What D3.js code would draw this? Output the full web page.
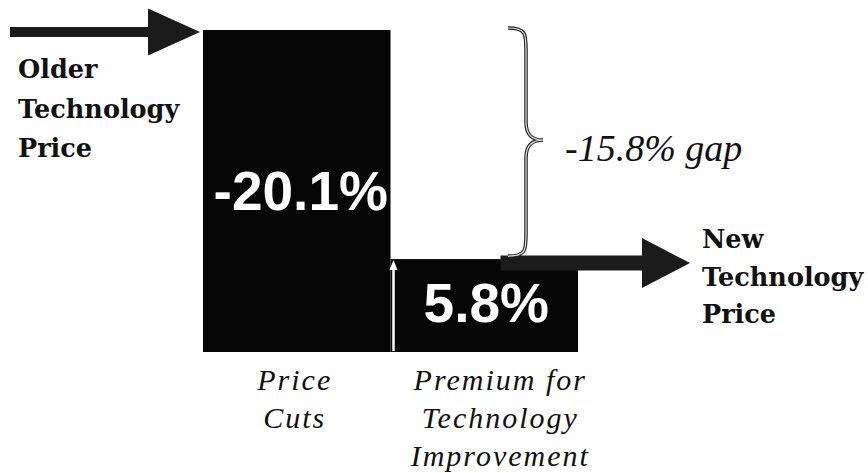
<!DOCTYPE html>
<html>
<head>
<meta charset="utf-8">
<script src="https://d3js.org/d3.v7.min.js"></script>
<style>
  html, body { margin: 0; padding: 0; background: #fff; }
  svg { display: block; }
  .bar { fill: #060606; }
  .arrow { fill: #1b1b1b; }
  .side-label { font-family: "DejaVu Serif", serif; font-weight: bold; font-size: 25.5px; fill: #111; }
  .bar-label { font-family: "Liberation Sans", Arial, sans-serif; font-weight: bold; font-size: 55px; fill: #fff; }
  .cat-label { font-family: "Liberation Serif", "Times New Roman", serif; font-style: italic; font-size: 30px; letter-spacing: 2px; fill: #111; }
  .gap-label { font-family: "Liberation Serif", "Times New Roman", serif; font-style: italic; font-size: 38px; fill: #111; }
</style>
</head>
<body>
<div id="chart"></div>
<script>
// data
var categories = ["Price Cuts", "Premium for Technology Improvement"];
var changes = [-20.1, 5.8];
var barLabels = ["-20.1%", "5.8%"];
var categoryLines = [["Price", "Cuts"], ["Premium for", "Technology", "Improvement"]];
var startLines = ["Older", "Technology", "Price"];
var endLines = ["New", "Technology", "Price"];
var gapLabel = "-15.8% gap";

var width = 868, height = 473;

// levels relative to the bottom of the price cut
var startLevel = -changes[0];
var cutLevel = startLevel + changes[0];
var endLevel = cutLevel + changes[1];

var svg = d3.select("#chart").append("svg")
    .attr("width", width)
    .attr("height", height);

var x = d3.scaleBand()
    .domain(categories)
    .range([203, 578])
    .padding(0);

var y = d3.scaleLinear()
    .domain([0, startLevel])
    .range([352, 30]);

var bars = [
    {cat: categories[0], from: startLevel, to: cutLevel, label: barLabels[0]},
    {cat: categories[1], from: cutLevel, to: endLevel, label: barLabels[1]}
];

svg.selectAll(".bar")
    .data(bars)
    .enter().append("rect")
    .attr("class", "bar")
    .attr("x", function(d) { return x(d.cat); })
    .attr("width", x.bandwidth())
    .attr("y", function(d) { return y(Math.max(d.from, d.to)); })
    .attr("height", function(d) { return y(Math.min(d.from, d.to)) - y(Math.max(d.from, d.to)); });

// arrow shape, tip at (x1, yc)
function arrowPath(x0, x1, yc, shaft, head, headLen) {
    var hx = x1 - headLen;
    return "M" + x0 + "," + (yc - shaft) +
        "L" + hx + "," + (yc - shaft) +
        "L" + hx + "," + (yc - head) +
        "L" + x1 + "," + yc +
        "L" + hx + "," + (yc + head) +
        "L" + hx + "," + (yc + shaft) +
        "L" + x0 + "," + (yc + shaft) + "Z";
}

// older price arrow
svg.append("path")
    .attr("class", "arrow")
    .attr("d", arrowPath(10, x(categories[0]) - 3, y(startLevel) + 2, 5, 23.5, 52));

// new price arrow
svg.append("path")
    .attr("class", "arrow")
    .attr("d", arrowPath(x(categories[1]) + 110, x(categories[1]) + x.bandwidth() + 112, y(endLevel) + 4, 7.5, 25, 48));

// white rise arrow between the bars
var ax = x(categories[1]) + 3;
svg.append("line")
    .attr("x1", ax).attr("x2", ax)
    .attr("y1", y(cutLevel) - 1)
    .attr("y2", y(endLevel) + 8)
    .attr("stroke", "#fff")
    .attr("stroke-width", 2.5);
svg.append("path")
    .attr("d", "M" + (ax - 4) + "," + (y(endLevel) + 11) + "L" + ax + "," + (y(endLevel) + 1) + "L" + (ax + 4) + "," + (y(endLevel) + 11) + "Z")
    .attr("fill", "#fff");

// bar value labels
svg.selectAll(".bar-label")
    .data(bars)
    .enter().append("text")
    .attr("class", "bar-label")
    .attr("text-anchor", "middle")
    .attr("x", function(d, i) { return x(d.cat) + x.bandwidth() / 2 + (i === 0 ? 4 : 2); })
    .attr("y", function(d, i) { return i === 0 ? y(startLevel) + 180 : y(cutLevel) - 30; })
    .text(function(d) { return d.label; });

// category labels under bars
var catG = svg.selectAll(".cat")
    .data(categories)
    .enter().append("text")
    .attr("class", "cat-label")
    .attr("text-anchor", "middle")
    .attr("transform", function(d, i) {
        return "translate(" + (x(d) + x.bandwidth() / 2 + (i === 0 ? -2 : 16)) + "," + (y(0) + 38) + ")";
    });
catG.selectAll("tspan")
    .data(function(d, i) { return categoryLines[i]; })
    .enter().append("tspan")
    .attr("x", 0)
    .attr("y", function(d, i) { return i * 38; })
    .text(function(d) { return d; });

// side labels
svg.append("text")
    .attr("class", "side-label")
    .attr("transform", "translate(18," + (y(startLevel) + 48) + ")")
    .selectAll("tspan")
    .data(startLines)
    .enter().append("tspan")
    .attr("x", 0)
    .attr("y", function(d, i) { return i * 39.5; })
    .text(function(d) { return d; });

svg.append("text")
    .attr("class", "side-label")
    .attr("transform", "translate(702," + (y(endLevel) - 11) + ")")
    .selectAll("tspan")
    .data(endLines)
    .enter().append("tspan")
    .attr("x", 0)
    .attr("y", function(d, i) { return i * 37.5; })
    .text(function(d) { return d; });

// brace for the gap
var braceTop = y(startLevel) - 2, braceBot = y(endLevel) - 3, braceMid = (braceTop + braceBot) / 2 - 2;
var bx0 = 508, bxv = 526, bxc = 543;
var brace = "M" + bx0 + "," + braceTop +
    "C" + bxv + "," + braceTop + " " + bxv + "," + (braceTop + 6) + " " + bxv + "," + (braceTop + 22) +
    "L" + bxv + "," + (braceMid - 18) +
    "C" + bxv + "," + (braceMid - 5) + " " + (bxv + 6) + "," + braceMid + " " + bxc + "," + braceMid +
    "C" + (bxv + 6) + "," + braceMid + " " + bxv + "," + (braceMid + 5) + " " + bxv + "," + (braceMid + 18) +
    "L" + bxv + "," + (braceBot - 22) +
    "C" + bxv + "," + (braceBot - 6) + " " + bxv + "," + braceBot + " " + bx0 + "," + braceBot;
svg.append("path")
    .attr("d", brace)
    .attr("fill", "none")
    .attr("stroke", "#222")
    .attr("stroke-width", 3.5);
svg.append("path")
    .attr("d", brace)
    .attr("fill", "none")
    .attr("stroke", "#e4e4e4")
    .attr("stroke-width", 1.2);

svg.append("text")
    .attr("class", "gap-label")
    .attr("x", 565)
    .attr("y", braceMid + 21)
    .text(gapLabel);
</script>
</body>
</html>
